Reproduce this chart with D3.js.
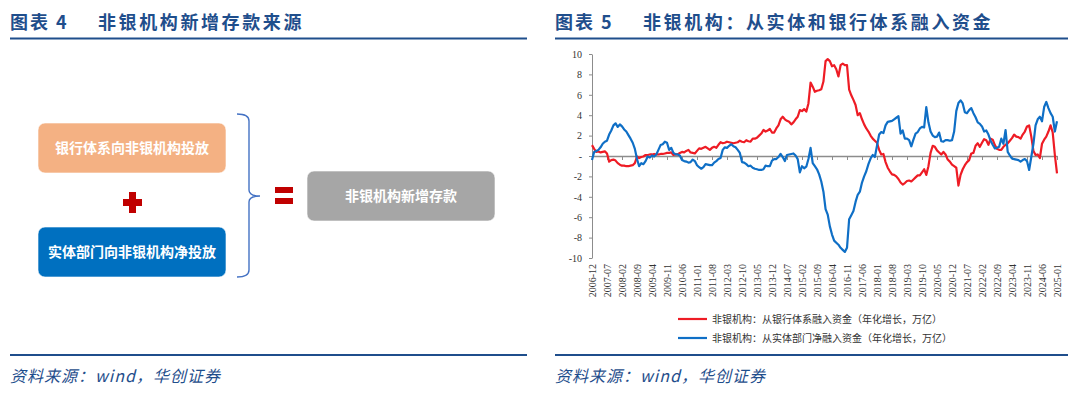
<!DOCTYPE html>
<html>
<head>
<meta charset="utf-8">
<script src="https://cdn.jsdelivr.net/npm/d3@7"></script>
<style>
  body { margin: 0; background: #fff; }
  svg { display: block; }
</style>
</head>
<body>
<div id="chart"></div>
<script>
// monthly series, first month 2006-12
var startMonth = '2006-12';

// 非银机构：从银行体系融入资金（年化增长，万亿）
var bankFunding = [
  1.07, 0.7, 0.4, 0.45, 0.35, 0.4, 0.45, 0.25, -0.55, -0.4,
  -0.35, -0.45, -0.7, -0.85, -0.95, -0.95, -1.0, -1.0, -0.95, -0.9,
  -0.7, -0.05, -0.2, -0.1, -0.05, 0.1, 0.1, 0.15, 0.15, 0.2,
  0.15, 0.15, 0.2, 0.2, 0.25, 0.3, 0.3, 0.35, 0.1, 0.15,
  0.15, 0.3, 0.4, 0.35, 0.5, 0.6, 0.35, 0.3, 0.25, 0.5,
  0.75, 0.7, 0.8, 0.9, 0.75, 0.6, 0.8, 0.9, 0.8, 1.1,
  1.35, 1.25, 1.3, 1.4, 1.35, 1.3, 1.25, 1.3, 1.35, 1.5,
  1.4, 1.35, 1.55, 1.45, 1.4, 1.7, 1.7, 1.8, 2.0, 2.2,
  2.55, 2.4, 2.5, 2.65, 2.3, 2.3, 2.7, 3.0, 3.6, 3.85,
  3.6, 3.45, 3.35, 3.1, 3.3, 3.6, 3.85, 4.5, 4.4, 4.6,
  4.35, 5.15, 7.2, 6.8, 6.3, 6.4, 6.45, 6.55, 7.3, 9.3,
  9.5, 9.3, 8.8, 8.9, 8.5, 7.8, 8.9, 9.05, 8.9, 8.9,
  6.5, 5.95, 5.5, 5.0, 4.0, 4.2, 3.6, 3.1, 2.7, 2.4,
  2.0, 1.7, 1.5, 1.3, 0.6, 0.15, 0.2, -0.6, -1.15, -1.5,
  -1.8, -1.85, -2.0, -2.25, -2.6, -2.8, -2.65, -2.45, -2.4, -2.5,
  -2.3, -2.1, -1.9, -1.9, -1.6, -1.3, -1.85, -1.0, 0.3, 1.0,
  0.9, 0.55, 0.35, 0.15, 0.4, 0.15, -0.35, -0.55, -0.85, -1.0,
  -1.15, -2.9, -1.85, -1.3, -0.9, -0.6, -0.4, 0.25, 0.3, 1.0,
  1.25, 0.9, 1.3, 1.65, 1.55, 1.1, 1.7, 1.6, 1.07, 0.7,
  0.6, 0.6, 0.9, 1.1, 1.25, 1.5, 1.75, 2.1, 1.9, 1.85,
  1.7, 2.1, 2.4, 2.9, 3.0, 1.9, 0.5, 0.1, 0.15, -0.2,
  1.2, 1.6, 1.9, 2.4, 3.0, 2.3, 0.1, -1.7
];

// 非银机构：从实体部门净融入资金（年化增长，万亿）
var realFunding = [
  -0.4, 0.4, 0.5, 0.6, 0.85, 1.2, 1.4, 1.5, 2.1, 2.5,
  3.0, 3.2, 2.85, 3.1, 2.9, 2.6, 2.4, 2.05, 1.7, 1.3,
  0.7, -0.3, -1.0, -0.7, -0.8, -0.5, -0.05, -0.15, 0.05, -0.05,
  0.15, 0.6, 1.07, 1.15, 1.4, 1.3, 0.6, 0.8, 0.3, 0.15,
  0.15, 0.05, -0.4, -0.5, -0.55, -0.65, -0.6, -0.35, -0.5, -0.9,
  -1.1, -1.25, -1.1, -0.8, -0.85, -0.9, -0.9, -0.65, -0.5, -0.3,
  -0.2, 0.6, 0.85, 0.8, 1.0, 1.15, 0.95, 0.85, 0.6, 0.3,
  -0.6, -0.65, -0.8, -1.0, -0.95, -1.15, -1.25, -1.3, -1.37, -1.37,
  -1.3, -0.95, -1.0, -1.0, -0.45, -0.3, -0.3, -0.1, 0.2, -0.1,
  -0.5, 0.1, 0.15, 0.2, 0.25, 0.05, -0.3, -1.6, -1.0, -1.2,
  -1.05, -0.3, 0.8, -0.7, -1.0, -1.3, -1.8, -2.5, -3.5, -5.2,
  -5.75, -6.9, -7.7, -8.3, -8.5, -8.7, -9.0, -9.2, -9.4, -9.0,
  -6.2, -5.8, -5.4, -4.5, -3.8, -3.5, -2.6, -2.0, -1.5, -0.8,
  -0.25, 0.1, -0.1, 1.0, 2.1, 2.35, 2.25, 3.0, 3.35, 3.4,
  3.45, 3.6, 3.75, 3.9, 2.2, 2.5, 1.7, 1.7, 1.55, 0.95,
  1.6, 2.2, 2.35, 2.7, 2.85, 2.8, 4.8, 3.3, 2.4, 2.0,
  1.85, 1.9, 2.3, 1.45, 1.4, 1.55, 1.55, 1.5, 1.55, 2.4,
  4.4, 5.2, 5.45, 5.15, 4.3, 4.2, 4.5, 4.7, 4.2, 3.8,
  3.3, 3.15, 2.9, 2.4, 2.5, 2.1, 1.5, 1.1, 0.75, 0.8,
  0.9, 1.7, 1.2, 2.55, 0.4, 0.05, -0.25, -0.3, -0.35, -0.4,
  -0.55, -0.4, -0.3, -0.5, -1.37, -0.1, 1.2, 3.0, 3.6, 3.85,
  3.4, 4.8, 5.3, 4.7, 4.2, 3.85, 2.4, 3.4
];

var yTicks = [-10, -8, -6, -4, -2, 0, 2, 4, 6, 8, 10];

var xTickLabels = [
  '2006-12', '2007-07', '2008-02', '2008-09', '2009-04', '2009-11',
  '2010-06', '2011-01', '2011-08', '2012-03', '2012-10', '2013-05',
  '2013-12', '2014-07', '2015-02', '2015-09', '2016-04', '2016-11',
  '2017-06', '2018-01', '2018-08', '2019-03', '2019-10', '2020-05',
  '2020-12', '2021-07', '2022-02', '2022-09', '2023-04', '2023-11',
  '2024-06', '2025-01'
];

var seriesNames = [
  '非银机构：从银行体系融入资金（年化增长，万亿）',
  '非银机构：从实体部门净融入资金（年化增长，万亿）'
];

var flowBoxes = ['银行体系向非银机构投放', '实体部门向非银机构净投放', '非银机构新增存款'];

var width = 1080,
    height = 395;

var titleBlue = '#1f4e8c',
    cjk = '"Noto Sans CJK SC", "Noto Sans", sans-serif',
    serif = '"Liberation Serif", "DejaVu Serif", serif';

// month categories from the start month
var months = (function () {
  var y = +startMonth.slice(0, 4), m = +startMonth.slice(5, 7), out = [];
  for (var i = 0; i < bankFunding.length; i++) {
    out.push(y + '-' + (m < 10 ? '0' + m : m));
    m++;
    if (m > 12) { m = 1; y++; }
  }
  return out;
})();

var svg = d3.select('#chart').append('svg')
    .attr('width', width)
    .attr('height', height);

svg.append('rect').attr('width', width).attr('height', height).attr('fill', '#fff');

// ---- panel headers / footers ----
var panels = [
  {x0: 10, x1: 527, num: '图表 4', title: '非银机构新增存款来源', tx: 98},
  {x0: 555, x1: 1068, num: '图表 5', title: '非银机构：从实体和银行体系融入资金', tx: 643}
];

panels.forEach(function (p) {
  svg.append('text')
      .attr('x', p.x0).attr('y', 29)
      .attr('fill', titleBlue)
      .style('font-family', cjk).style('font-size', '18px').style('font-weight', 'bold')
      .style('letter-spacing', '2px')
      .text(p.num);
  svg.append('text')
      .attr('x', p.tx).attr('y', 29)
      .attr('fill', titleBlue)
      .style('font-family', cjk).style('font-size', '18px').style('font-weight', 'bold')
      .style('letter-spacing', '2.6px')
      .text(p.title);
  svg.append('line')
      .attr('x1', p.x0).attr('x2', p.x1).attr('y1', 38.5).attr('y2', 38.5)
      .attr('stroke', titleBlue).attr('stroke-width', 2);
  svg.append('line')
      .attr('x1', p.x0).attr('x2', p.x1).attr('y1', 355).attr('y2', 355)
      .attr('stroke', titleBlue).attr('stroke-width', 2);
  svg.append('text')
      .attr('x', p.x0).attr('y', 382)
      .attr('fill', titleBlue)
      .style('font-family', cjk).style('font-size', '16px').style('font-style', 'italic')
      .style('letter-spacing', '1px')
      .text('资料来源：wind，华创证券');
});

// ---- left diagram ----
var boxes = [
  {x: 38, y: 123, w: 188, h: 50, fill: '#f4b183', text: flowBoxes[0]},
  {x: 38, y: 227, w: 188, h: 50, fill: '#0070c0', text: flowBoxes[1]},
  {x: 307, y: 171, w: 188, h: 50, fill: '#a6a6a6', text: flowBoxes[2]}
];

var box = svg.append('g').selectAll('g')
    .data(boxes)
  .enter().append('g');

box.append('rect')
    .attr('x', function (d) { return d.x; })
    .attr('y', function (d) { return d.y; })
    .attr('width', function (d) { return d.w; })
    .attr('height', function (d) { return d.h; })
    .attr('rx', 7)
    .attr('fill', function (d) { return d.fill; })
    .attr('stroke', '#fff')
    .attr('stroke-opacity', 0.6);

box.append('text')
    .attr('x', function (d) { return d.x + d.w / 2; })
    .attr('y', function (d) { return d.y + d.h / 2; })
    .attr('dy', '0.35em')
    .attr('text-anchor', 'middle')
    .attr('fill', '#fff')
    .style('font-family', cjk).style('font-size', '14px').style('font-weight', 'bold')
    .text(function (d) { return d.text; });

// plus sign
svg.append('path')
    .attr('d', 'M129,192h7v7h6v7h-6v7h-7v-7h-6v-7h6z')
    .attr('fill', '#c00000');

// brace
svg.append('path')
    .attr('d', 'M237,114 Q249,114 249,121 L249,190 Q249,196 260,196 Q249,196 249,202 L249,270 Q249,277 237,277')
    .attr('fill', 'none')
    .attr('stroke', '#4472c4')
    .attr('stroke-width', 1.4);

// equals sign
svg.append('rect').attr('x', 275).attr('y', 187).attr('width', 18).attr('height', 6).attr('fill', '#c00000');
svg.append('rect').attr('x', 275).attr('y', 198).attr('width', 18).attr('height', 6).attr('fill', '#c00000');

// ---- right line chart ----
var x = d3.scalePoint()
    .domain(months)
    .range([592, 1057]);

var y = d3.scaleLinear()
    .domain([-10, 10])
    .range([258, 54]);

var yAxis = d3.axisLeft(y)
    .tickValues(yTicks)
    .tickFormat(function (d) { return d === 0 ? '-' : d; })
    .tickSize(3)
    .tickSizeOuter(0)
    .tickPadding(7);

var gy = svg.append('g')
    .attr('transform', 'translate(592,0)')
    .call(yAxis);
gy.select('.domain').attr('stroke', '#8c8c8c');
gy.selectAll('.tick line').attr('stroke', '#8c8c8c');
gy.selectAll('text')
    .attr('fill', '#333')
    .style('font-family', serif).style('font-size', '10px');

// zero axis with month ticks
var gx = svg.append('g')
    .attr('transform', 'translate(0,' + y(0) + ')')
    .call(d3.axisBottom(x).tickValues(xTickLabels).tickSize(4).tickSizeOuter(0).tickFormat(''));
gx.select('.domain').attr('stroke', '#8c8c8c').attr('stroke-width', 1.6);
gx.selectAll('.tick line').attr('stroke', '#8c8c8c');

// rotated month labels under the plot
var gl = svg.append('g')
    .attr('transform', 'translate(0,262)')
    .call(d3.axisBottom(x).tickValues(xTickLabels).tickSize(0).tickPadding(0));
gl.select('.domain').remove();
gl.selectAll('text')
    .attr('transform', 'rotate(-90)')
    .attr('text-anchor', 'end')
    .attr('x', -2)
    .attr('y', 0)
    .attr('dy', '0.35em')
    .attr('fill', '#333')
    .style('font-family', serif).style('font-size', '10px');

var line = function (values) {
  return d3.line()
      .x(function (d, i) { return x(months[i]); })
      .y(function (d) { return y(d); })(values);
};

var series = [
  {values: bankFunding, color: '#ee1c25', name: seriesNames[0]},
  {values: realFunding, color: '#0f6fc6', name: seriesNames[1]}
];

svg.append('g').selectAll('path')
    .data(series)
  .enter().append('path')
    .attr('d', function (d) { return line(d.values); })
    .attr('fill', 'none')
    .attr('stroke', function (d) { return d.color; })
    .attr('stroke-width', 2.2)
    .attr('stroke-linejoin', 'round');

// legend
var legend = svg.append('g').selectAll('g')
    .data(series)
  .enter().append('g')
    .attr('transform', function (d, i) { return 'translate(678,' + (319 + i * 19) + ')'; });

legend.append('line')
    .attr('x1', 0).attr('x2', 29)
    .attr('stroke', function (d) { return d.color; })
    .attr('stroke-width', 2.2);

legend.append('text')
    .attr('x', 34)
    .attr('dy', '0.35em')
    .attr('fill', '#333')
    .style('font-family', cjk).style('font-size', '10px')
    .text(function (d) { return d.name; });
</script>
</body>
</html>
